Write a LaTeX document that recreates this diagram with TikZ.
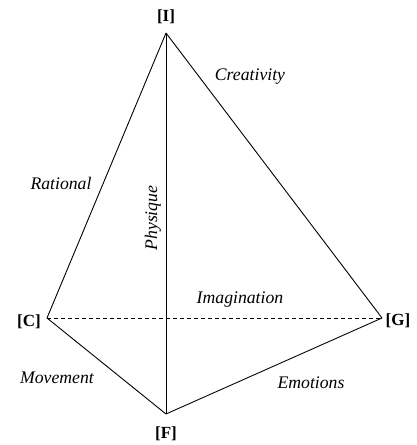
\documentclass[tikz,border=0pt]{standalone}
\usepackage{fontspec}
\setmainfont{Liberation Serif}
\begin{document}
\begin{tikzpicture}[x=1pt,y=-1pt,
  vtx/.style={inner sep=0pt,font=\bfseries\fontsize{17}{19}\selectfont},
  lbl/.style={inner sep=0pt,font=\itshape\fontsize{17.7}{20}\selectfont},
  edge/.style={line width=0.9pt}]
\useasboundingbox (0,0) rectangle (417,445);
\coordinate (I) at (166,33);
\coordinate (C) at (47,318);
\coordinate (G) at (382,318);
\coordinate (F) at (166,414);
\node[vtx] (lI) at (166,17) {[I]};
\node[vtx] (lC) at (29,322) {[C]};
\node[vtx] (lG) at (398,321) {[G]};
\node[vtx] (lF) at (166,434) {[F]};
\draw[edge] (I) -- (C);
\draw[edge] (I) -- (G);
\draw[edge] (I) -- (F);
\draw[edge] (C) -- (F);
\draw[edge] (G) -- (F);
\draw[edge,dash pattern=on 4pt off 3pt,line width=0.7pt] (C) -- (G);
\node[lbl] (cr) at (250,77) {Creativity};
\node[lbl] (ra) at (61,183) {Rational};
\node[lbl,rotate=90] (ph) at (153,218) {Physique};
\node[lbl] (im) at (240,300) {Imagination};
\node[lbl] (mo) at (57,378) {Movement};
\node[lbl] (em) at (311,383) {Emotions};
\end{tikzpicture}
\end{document}
